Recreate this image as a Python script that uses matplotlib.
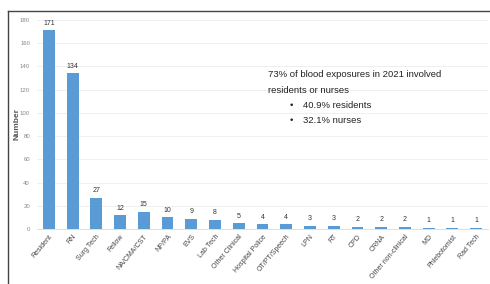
import matplotlib.pyplot as plt
from matplotlib.lines import Line2D

# Data
categories = ["Resident", "RN", "Surg Tech", "Fellow", "NA/CMA/CST", "NP/PA", "EVS",
              "Lab Tech", "Other Clinical", "Hospital Police", "OT/PT/Speech", "LPN",
              "RT", "CPD", "CRNA", "Other non-clinical", "MD", "Phlebotomist", "Rad Tech"]
counts = [171, 134, 27, 12, 15, 10, 9, 8, 5, 4, 4, 3, 3, 2, 2, 2, 1, 1, 1]
yticks = list(range(0, 181, 20))
note_lines = ["73% of blood exposures in 2021 involved", "residents or nurses"]
bullets = ["40.9% residents", "32.1% nurses"]

plt.rcParams['font.family'] = ['Liberation Sans Narrow', 'Liberation Sans', 'DejaVu Sans']

fig = plt.figure(figsize=(4.9, 2.84), dpi=100)
ax = fig.add_axes([0.0755, 0.1937, 0.9205, 0.7359])

x = range(len(categories))
bars = ax.bar(x, counts, width=0.5, color='#5b9bd5', zorder=3)
for b, v in zip(bars, counts):
    ax.text(b.get_x() + b.get_width() / 2, v + 3, str(v), ha='center', va='bottom',
            fontsize=5, color='#333333')

ax.set_xlim(-0.5, len(categories) - 0.5)
ax.set_ylim(0, 180)
ax.set_yticks(yticks)
ax.tick_params(axis='y', labelsize=4.3, labelcolor='#888888', length=0, pad=5)
ax.set_xticks(list(x))
ax.set_xticklabels(categories, rotation=50, ha='right', rotation_mode='anchor',
                   fontsize=5, color='#444444')
ax.tick_params(axis='x', length=0, pad=3)
ax.grid(axis='y', color='#ececec', linewidth=0.6, zorder=0)
for s in ['top', 'right', 'left']:
    ax.spines[s].set_visible(False)
ax.spines['bottom'].set_color('#d9d9d9')
ax.spines['bottom'].set_linewidth(0.6)
ax.set_ylabel("Number", fontsize=6, color='#555555', fontweight='bold', va='center')
ax.yaxis.set_label_coords(-0.044, 0.5)

# annotation
ys = [0.737, 0.665, 0.589, 0.517]
fs = 6.8
for txt, yy in zip(note_lines, ys[:2]):
    ax.text(0.512, yy, txt, transform=ax.transAxes, fontsize=fs, color='#222222',
            va='center', ha='left')
for txt, yy in zip(bullets, ys[2:]):
    ax.text(0.561, yy, "\u2022", transform=ax.transAxes, fontsize=fs, color='#222222',
            va='center', ha='left')
    ax.text(0.59, yy, txt, transform=ax.transAxes, fontsize=fs, color='#222222',
            va='center', ha='left')

# outer frame
top = 1 - 11 / 284
left = 8 / 490
fig.add_artist(Line2D([left, 1.0], [top, top], transform=fig.transFigure,
                      color='#444444', linewidth=1.0))
fig.add_artist(Line2D([left, left], [0, top], transform=fig.transFigure,
                      color='#444444', linewidth=1.0))

fig.savefig("out.png", dpi=100)
